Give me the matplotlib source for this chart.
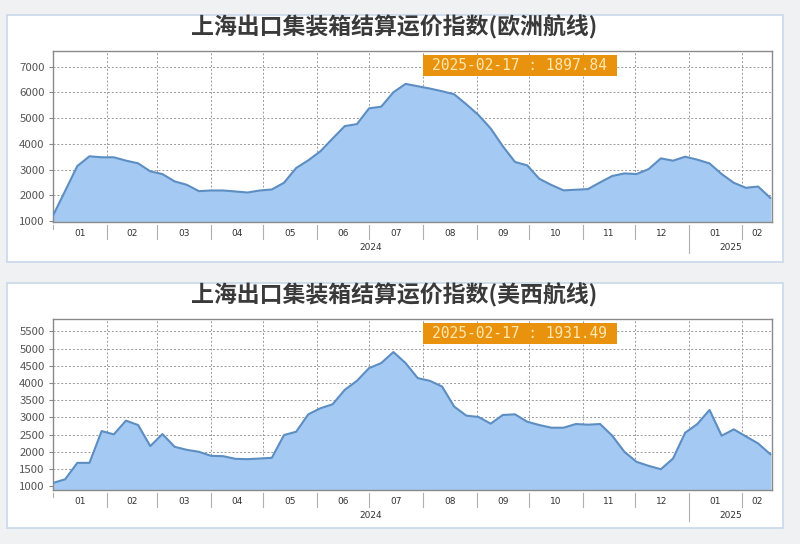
import numpy as np
import pandas as pd
import matplotlib
matplotlib.use("Agg")
import matplotlib.pyplot as plt
import matplotlib.dates as mdates
from matplotlib.patches import Rectangle
from matplotlib.transforms import blended_transform_factory

plt.rcParams['font.family'] = ['Noto Sans CJK SC', 'DejaVu Sans']

# fechas semanales (lunes) del indice
fechas = pd.date_range('2024-01-01', '2025-02-17', freq='7D')

titulo_europa = '上海出口集装箱结算运价指数(欧洲航线)'
titulo_usa = '上海出口集装箱结算运价指数(美西航线)'

europa = [1209, 2170, 3138, 3516, 3477, 3477, 3347, 3243, 2930, 2825,
          2540, 2408, 2160, 2186, 2186, 2147, 2108, 2186, 2225, 2486,
          3060, 3360, 3712, 4207, 4690, 4768, 5381, 5446, 6006, 6332,
          6241, 6150, 6046, 5928, 5537, 5120, 4599, 3907, 3295, 3164,
          2640, 2400, 2190, 2215, 2240, 2500, 2750, 2850, 2825, 3020,
          3435, 3345, 3500, 3385, 3240, 2825, 2485, 2290, 2340, 1897.84]

usa_oeste = [1097, 1204, 1681, 1681, 2605, 2508, 2907, 2780, 2167, 2517,
             2148, 2060, 2002, 1885, 1875, 1798, 1788, 1807, 1827, 2488,
             2585, 3091, 3267, 3383, 3802, 4064, 4434, 4580, 4900, 4580,
             4142, 4064, 3899, 3315, 3053, 3014, 2819, 3072, 3091, 2877,
             2780, 2702, 2702, 2809, 2790, 2809, 2469, 2002, 1710, 1593,
             1496, 1807, 2556, 2809, 3218, 2469, 2654, 2449, 2245, 1931.49]

ticks_europa = list(range(1000, 7001, 1000))
ticks_usa = list(range(1000, 5501, 500))

x_ini = pd.Timestamp('2024-01-01')
x_fin = pd.Timestamp('2025-02-18')


def dibujar(ax, valores, titulo, yticks, ylim, caja_y):
    fig = ax.figure
    # caja blanca del panel (detras de los ejes)
    fig.patches.append(Rectangle((0.009, caja_y[0]), 0.97, caja_y[1] - caja_y[0],
                                 transform=fig.transFigure, facecolor='white',
                                 edgecolor='#c8d8ea', linewidth=1.2, zorder=-5))
    fig.text(0.4925, caja_y[1] - 0.022, titulo, ha='center', va='center',
             fontsize=16.5, fontweight='bold', color='#3a3a3a')

    x = mdates.date2num(fechas)
    ax.fill_between(x, valores, ylim[0], color='#a4c9f3', zorder=2)
    ax.plot(x, valores, color='#5d8ec2', linewidth=1.5, zorder=3)

    ax.set_xlim(mdates.date2num(x_ini), mdates.date2num(x_fin))
    ax.set_ylim(*ylim)
    ax.set_yticks(yticks)
    ax.tick_params(axis='y', labelsize=8.2, labelcolor='#555555', color='#888888',
                   length=3, pad=3)

    # limites de mes
    limites = pd.date_range('2024-02-01', '2025-02-01', freq='MS')
    ax.set_xticks(mdates.date2num(limites))
    ax.set_xticklabels([])
    ax.tick_params(axis='x', length=0)
    ax.grid(True, color='#9a9a9a', linestyle=(0, (2, 2)), linewidth=0.7, zorder=1)
    ax.set_axisbelow(True)
    for s in ax.spines.values():
        s.set_color('#8a8a8a')
        s.set_linewidth(1.0)

    trans = blended_transform_factory(ax.transData, ax.transAxes)
    bordes = [x_ini] + list(limites) + [x_fin]
    for b in [x_ini] + list(limites):
        bx = mdates.date2num(b)
        if b == x_ini:
            y_bajo = -0.04
        elif b == pd.Timestamp('2025-01-01'):
            y_bajo = -0.18
        else:
            y_bajo = -0.10
        ax.plot([bx, bx], [-0.018, y_bajo], transform=trans, color='#b0b0b0',
                linewidth=0.8, clip_on=False)
    for a, b in zip(bordes[:-1], bordes[1:]):
        mx = (mdates.date2num(a) + mdates.date2num(b)) / 2
        ax.text(mx, -0.07, a.strftime('%m'), transform=trans, ha='center',
                va='center', fontsize=6.5, color='#333333', family='DejaVu Sans')
    # etiquetas de año
    corte = mdates.date2num(pd.Timestamp('2025-01-01'))
    ax.text((mdates.date2num(x_ini) + corte) / 2, -0.152, '2024', transform=trans,
            ha='center', va='center', fontsize=6.5, color='#333333', family='DejaVu Sans')
    ax.text((corte + mdates.date2num(x_fin)) / 2, -0.152, '2025', transform=trans,
            ha='center', va='center', fontsize=6.5, color='#333333', family='DejaVu Sans')

    # etiqueta naranja con el ultimo valor
    ax.add_patch(Rectangle((0.5146, 0.855), 0.2694, 0.122, transform=ax.transAxes,
                           facecolor='#e8920d', edgecolor='none', zorder=5))
    ax.text(0.6495, 0.915, f'{fechas[-1]:%Y-%m-%d} : {valores[-1]:.2f}',
            transform=ax.transAxes, ha='center', va='center', fontsize=10.5,
            color='#ffe8b0', family='DejaVu Sans Mono', zorder=6)


fig = plt.figure(figsize=(8, 5.44), dpi=100)
fig.patch.set_facecolor('#eff1f2')

ax1 = fig.add_axes([0.06625, 0.5919, 0.89875, 0.3143])
ax2 = fig.add_axes([0.06625, 0.0993, 0.89875, 0.3143])

dibujar(ax1, europa, titulo_europa, ticks_europa, (960, 7610), (0.5184, 0.9724))
dibujar(ax2, usa_oeste, titulo_usa, ticks_usa, (893, 5860), (0.0294, 0.4798))

fig.savefig('out.png', dpi=100, facecolor=fig.get_facecolor())
